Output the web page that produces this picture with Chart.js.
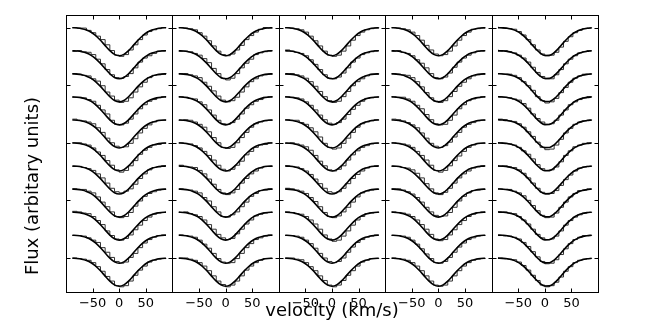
<!DOCTYPE html>
<html>
<head>
<meta charset="utf-8">
<script src="https://cdn.jsdelivr.net/npm/chart.js@4.4.1/dist/chart.umd.min.js"></script>
<style>
  html, body { margin: 0; padding: 0; background: #fff; }
  canvas { display: block; }
</style>
</head>
<body>
<canvas id="profiles" width="664" height="332"></canvas>
<script>
// velocity bins (km/s)
const velocity = [-88, -79.2, -70.4, -61.6, -52.8, -44, -35.2, -26.4, -17.6, -8.8, 0,
                  8.8, 17.6, 26.4, 35.2, 44, 52.8, 61.6, 70.4, 79.2, 88];
const xTicks = [-50, 0, 50];
const yTicks = [1, 2, 3, 4, 5];
// continuum level of each stacked profile, top to bottom
const rowLevels = [5.0, 4.6, 4.2, 3.8, 3.4, 3.0, 2.6, 2.2, 1.8, 1.4, 1.0];

const xLabel = "velocity (km/s)";
const yLabel = "Flux (arbitary units)";

// model line profiles
const modelCentred = [0.996, 0.991, 0.979, 0.956, 0.917, 0.857, 0.778, 0.686, 0.598, 0.533, 0.510,
                      0.533, 0.598, 0.686, 0.778, 0.857, 0.917, 0.956, 0.979, 0.991, 0.996];
const modelShifted = [0.998, 0.994, 0.986, 0.968, 0.937, 0.887, 0.816, 0.728, 0.636, 0.558, 0.515,
                      0.517, 0.564, 0.644, 0.737, 0.823, 0.893, 0.941, 0.971, 0.987, 0.995];
const panelModels = [modelCentred, modelCentred, modelCentred, modelCentred, modelShifted];

// observed profiles, one row per spectrum (top to bottom)
const obsPanel1 = [
  [1.00,0.99,0.99,0.95,0.91,0.85,0.79,0.70,0.60,0.52,0.50,0.53,0.61,0.70,0.79,0.87,0.93,0.96,0.98,1.00,0.99],
  [0.99,1.00,0.98,0.97,0.93,0.85,0.77,0.67,0.58,0.53,0.52,0.55,0.60,0.70,0.80,0.87,0.91,0.95,0.99,1.00,1.00],
  [1.00,0.99,0.97,0.96,0.91,0.87,0.79,0.68,0.61,0.54,0.50,0.52,0.58,0.68,0.77,0.85,0.93,0.97,0.98,0.99,1.01],
  [0.99,0.99,0.98,0.95,0.92,0.85,0.77,0.70,0.59,0.52,0.51,0.54,0.61,0.70,0.79,0.86,0.92,0.95,0.98,1.00,0.99],
  [1.01,0.99,0.98,0.96,0.93,0.86,0.78,0.68,0.60,0.54,0.52,0.53,0.59,0.67,0.77,0.85,0.91,0.96,0.99,0.99,1.00],
  [1.00,1.00,0.98,0.96,0.91,0.84,0.78,0.69,0.61,0.53,0.49,0.52,0.60,0.69,0.80,0.87,0.92,0.96,0.97,0.99,1.00],
  [0.99,0.99,0.97,0.95,0.92,0.86,0.79,0.70,0.61,0.55,0.53,0.56,0.60,0.68,0.78,0.86,0.93,0.97,0.98,1.00,1.00],
  [1.00,0.99,0.99,0.96,0.93,0.86,0.77,0.69,0.60,0.52,0.50,0.52,0.59,0.70,0.79,0.87,0.92,0.95,0.98,0.99,1.00],
  [1.01,1.00,0.98,0.97,0.92,0.85,0.78,0.67,0.59,0.53,0.51,0.54,0.60,0.69,0.77,0.85,0.91,0.96,0.98,0.99,0.99],
  [0.99,0.99,0.98,0.95,0.91,0.87,0.78,0.70,0.61,0.54,0.51,0.53,0.61,0.68,0.78,0.86,0.92,0.96,0.99,1.00,1.00],
  [1.00,0.99,0.98,0.96,0.92,0.85,0.77,0.68,0.60,0.52,0.50,0.52,0.60,0.70,0.79,0.86,0.93,0.96,0.98,0.99,1.00]
];
const obsPanel2 = [
  [1.00,0.99,0.98,0.96,0.91,0.85,0.77,0.68,0.59,0.53,0.51,0.54,0.61,0.69,0.79,0.86,0.92,0.97,1.00,0.99,0.99],
  [0.99,0.99,0.98,0.95,0.92,0.86,0.79,0.69,0.60,0.52,0.49,0.52,0.60,0.70,0.78,0.85,0.93,0.96,0.98,1.00,1.00],
  [1.00,1.00,0.98,0.96,0.93,0.85,0.78,0.70,0.61,0.54,0.51,0.53,0.59,0.68,0.77,0.86,0.91,0.96,0.98,0.99,1.00],
  [1.00,0.99,0.97,0.96,0.91,0.86,0.77,0.68,0.59,0.53,0.52,0.55,0.61,0.70,0.80,0.86,0.92,0.95,0.99,1.00,0.99],
  [0.99,1.00,0.99,0.96,0.92,0.87,0.79,0.69,0.60,0.52,0.50,0.52,0.60,0.69,0.78,0.87,0.93,0.96,0.98,0.99,1.00],
  [1.00,0.99,0.98,0.95,0.91,0.85,0.78,0.70,0.61,0.54,0.51,0.54,0.61,0.68,0.79,0.85,0.92,0.96,0.97,1.00,1.00],
  [1.01,0.99,0.98,0.97,0.92,0.86,0.77,0.68,0.59,0.53,0.50,0.53,0.59,0.70,0.78,0.86,0.91,0.96,0.99,0.99,1.00],
  [1.00,0.99,0.98,0.96,0.93,0.85,0.79,0.69,0.60,0.52,0.51,0.55,0.60,0.69,0.77,0.87,0.92,0.97,0.98,1.00,0.99],
  [0.99,1.00,0.97,0.95,0.92,0.86,0.78,0.70,0.61,0.55,0.52,0.54,0.62,0.70,0.79,0.86,0.93,0.96,0.98,0.99,1.00],
  [1.00,0.99,0.98,0.96,0.91,0.84,0.77,0.68,0.59,0.53,0.51,0.52,0.59,0.68,0.78,0.85,0.92,0.95,0.98,1.00,1.00],
  [1.00,1.00,0.98,0.96,0.92,0.86,0.78,0.69,0.60,0.54,0.50,0.53,0.60,0.69,0.79,0.86,0.92,0.96,0.99,0.99,1.00]
];
const obsPanel3 = [
  [1.00,0.99,0.98,0.96,0.92,0.85,0.77,0.68,0.59,0.52,0.50,0.52,0.59,0.68,0.78,0.86,0.92,0.96,0.98,0.99,1.00],
  [1.01,0.99,0.97,0.95,0.91,0.84,0.76,0.67,0.58,0.52,0.51,0.54,0.61,0.70,0.80,0.87,0.93,0.96,0.98,1.00,1.00],
  [0.99,1.00,0.98,0.96,0.92,0.86,0.78,0.69,0.60,0.53,0.50,0.52,0.60,0.69,0.79,0.86,0.91,0.96,0.99,0.99,1.00],
  [1.00,0.99,0.98,0.96,0.91,0.85,0.77,0.68,0.60,0.54,0.52,0.55,0.61,0.69,0.78,0.85,0.92,0.97,0.98,0.99,1.00],
  [1.00,0.99,0.99,0.95,0.92,0.86,0.79,0.70,0.59,0.52,0.49,0.51,0.59,0.68,0.78,0.87,0.93,0.96,0.98,1.00,0.99],
  [0.99,1.00,0.98,0.96,0.93,0.87,0.78,0.68,0.60,0.53,0.51,0.54,0.60,0.70,0.79,0.86,0.92,0.95,0.98,0.99,1.00],
  [1.00,0.99,0.98,0.95,0.91,0.85,0.77,0.69,0.61,0.55,0.53,0.55,0.61,0.69,0.78,0.85,0.91,0.96,0.99,1.00,1.00],
  [1.01,1.00,0.98,0.96,0.92,0.85,0.78,0.69,0.59,0.52,0.50,0.53,0.60,0.68,0.77,0.86,0.93,0.96,0.98,0.99,1.00],
  [1.00,0.99,0.97,0.96,0.92,0.86,0.79,0.70,0.60,0.53,0.49,0.51,0.58,0.67,0.77,0.86,0.92,0.97,0.98,0.99,1.00],
  [0.99,0.99,0.98,0.96,0.91,0.85,0.77,0.68,0.60,0.54,0.52,0.54,0.60,0.70,0.79,0.87,0.92,0.96,0.98,1.00,1.00],
  [1.00,1.00,0.98,0.97,0.92,0.85,0.78,0.69,0.61,0.53,0.50,0.53,0.61,0.70,0.78,0.86,0.93,0.96,0.99,0.99,1.00]
];
const obsPanel4 = [
  [1.00,0.99,0.98,0.96,0.92,0.86,0.78,0.69,0.61,0.54,0.51,0.53,0.59,0.68,0.78,0.86,0.92,0.97,0.98,0.99,1.00],
  [0.99,1.00,0.97,0.95,0.91,0.84,0.78,0.70,0.60,0.53,0.51,0.54,0.61,0.71,0.80,0.87,0.92,0.96,0.99,1.00,1.00],
  [1.00,0.99,0.98,0.97,0.93,0.86,0.77,0.67,0.58,0.52,0.50,0.53,0.60,0.69,0.78,0.85,0.91,0.96,0.98,0.99,1.00],
  [1.00,0.99,0.99,0.96,0.92,0.85,0.79,0.69,0.60,0.53,0.51,0.52,0.59,0.68,0.79,0.86,0.93,0.96,0.98,1.00,0.99],
  [1.01,1.00,0.98,0.95,0.91,0.86,0.77,0.68,0.59,0.54,0.52,0.55,0.61,0.70,0.78,0.87,0.92,0.95,0.98,0.99,1.00],
  [1.00,0.99,0.98,0.96,0.92,0.85,0.78,0.70,0.61,0.52,0.49,0.52,0.60,0.69,0.77,0.85,0.92,0.96,0.99,0.99,1.00],
  [0.99,0.99,0.97,0.96,0.93,0.87,0.79,0.69,0.60,0.53,0.50,0.54,0.61,0.70,0.79,0.86,0.91,0.96,0.98,1.00,1.00],
  [1.00,1.00,0.98,0.95,0.91,0.85,0.77,0.68,0.60,0.54,0.52,0.53,0.59,0.68,0.79,0.87,0.93,0.97,0.98,0.99,1.00],
  [1.00,0.99,0.98,0.96,0.92,0.86,0.78,0.70,0.61,0.53,0.50,0.52,0.60,0.69,0.78,0.85,0.92,0.96,0.99,1.00,0.99],
  [0.99,0.99,0.98,0.96,0.91,0.84,0.76,0.67,0.59,0.52,0.51,0.54,0.61,0.70,0.79,0.86,0.92,0.95,0.98,0.99,1.00],
  [1.00,0.99,0.98,0.96,0.92,0.86,0.78,0.69,0.60,0.53,0.51,0.53,0.60,0.69,0.78,0.86,0.92,0.96,0.98,0.99,1.00]
];
const obsPanel5 = [
  [1.00,0.99,0.98,0.97,0.93,0.87,0.79,0.70,0.61,0.54,0.51,0.52,0.57,0.66,0.76,0.84,0.91,0.95,0.98,0.99,1.00],
  [0.99,1.00,0.98,0.96,0.92,0.87,0.80,0.71,0.62,0.55,0.51,0.51,0.58,0.67,0.77,0.85,0.91,0.96,0.98,1.00,1.00],
  [1.00,0.99,0.99,0.97,0.93,0.86,0.79,0.71,0.60,0.53,0.49,0.51,0.57,0.67,0.76,0.85,0.92,0.96,0.99,0.99,1.00],
  [1.00,0.99,0.98,0.96,0.94,0.88,0.80,0.70,0.62,0.56,0.52,0.53,0.59,0.68,0.77,0.86,0.91,0.95,0.98,1.00,0.99],
  [1.01,1.00,0.98,0.97,0.93,0.87,0.79,0.71,0.61,0.52,0.48,0.49,0.56,0.66,0.77,0.85,0.92,0.96,0.98,0.99,1.00],
  [1.00,0.99,0.98,0.96,0.92,0.86,0.80,0.72,0.62,0.55,0.52,0.53,0.58,0.67,0.78,0.86,0.93,0.96,0.99,1.00,1.00],
  [0.99,1.00,0.98,0.97,0.93,0.87,0.79,0.70,0.61,0.54,0.51,0.52,0.57,0.66,0.76,0.84,0.91,0.96,0.98,0.99,1.00],
  [1.00,0.99,0.99,0.96,0.93,0.88,0.80,0.71,0.62,0.54,0.50,0.51,0.58,0.68,0.77,0.86,0.92,0.97,0.98,1.00,1.00],
  [1.00,1.00,0.98,0.97,0.92,0.86,0.79,0.70,0.61,0.55,0.52,0.53,0.58,0.67,0.77,0.85,0.91,0.95,0.98,0.99,1.00],
  [0.99,0.99,0.98,0.96,0.93,0.87,0.80,0.71,0.62,0.54,0.50,0.51,0.57,0.66,0.76,0.85,0.92,0.96,0.99,0.99,1.00],
  [1.00,0.99,0.98,0.97,0.93,0.87,0.79,0.70,0.61,0.53,0.50,0.52,0.58,0.67,0.77,0.85,0.92,0.96,0.98,0.99,1.00]
];
const panels = [obsPanel1, obsPanel2, obsPanel3, obsPanel4, obsPanel5];

const FONT = "DejaVu Sans";
Chart.defaults.font.family = FONT;
Chart.defaults.color = "#000";

// build datasets: observed (steps) + model (smooth) for every spectrum
const datasets = [];
panels.forEach((rows, p) => {
    const xAxisID = "x" + p;
    rows.forEach((flux, r) => {
        const shift = rowLevels[r] - 1;
        datasets.push({
            xAxisID: xAxisID,
            yAxisID: "y",
            order: 1,
            data: velocity.map((v, k) => ({ x: v, y: flux[k] + shift })),
            stepped: "before",
            borderColor: "#333",
            borderWidth: 1,
            pointRadius: 0,
            fill: false
        });
        datasets.push({
            xAxisID: xAxisID,
            yAxisID: "y",
            order: 0,
            data: velocity.map((v, k) => ({ x: v, y: panelModels[p][k] + shift })),
            cubicInterpolationMode: "monotone",
            borderColor: "#000",
            borderWidth: 1.6,
            pointRadius: 0,
            fill: false
        });
    });
});

const scales = {
    y: {
        position: "left",
        min: 0.41,
        max: 5.217,
        ticks: { display: false },
        grid: { display: false, drawTicks: false },
        border: { display: false },
        afterFit: function (s) { s.width = 66; }
    }
};
panels.forEach((rows, p) => {
    scales["x" + p] = {
        type: "linear",
        position: "bottom",
        stack: "panels",
        stackWeight: 1,
        min: -100,
        max: 100,
        afterBuildTicks: function (s) { s.ticks = xTicks.map(v => ({ value: v })); },
        ticks: {
            autoSkip: false,
            maxRotation: 0,
            padding: 4,
            color: "#000",
            font: { size: 13 },
            callback: v => (v < 0 ? "\u2212" + Math.abs(v) : String(v))
        },
        grid: { display: false, drawTicks: false },
        border: { display: false },
        afterFit: function (s) { s.height = 40; }
    };
});

// panel frames, inward tick marks and the two axis labels
const framePlugin = {
    id: "panelFrames",
    afterDraw(chart) {
        const { ctx, chartArea } = chart;
        const yScale = chart.scales.y;
        const top = Math.round(chartArea.top) + 0.5;
        const bottom = Math.round(chartArea.bottom) + 0.5;
        ctx.save();
        ctx.strokeStyle = "#000";
        ctx.lineWidth = 1;
        panels.forEach((rows, p) => {
            const s = chart.scales["x" + p];
            const left = Math.round(s.left) + 0.5;
            const right = Math.round(s.right) + 0.5;
            ctx.strokeRect(left, top, right - left, bottom - top);
            ctx.beginPath();
            xTicks.forEach(v => {
                const x = Math.round(s.getPixelForValue(v)) + 0.5;
                ctx.moveTo(x, bottom); ctx.lineTo(x, bottom - 4);
                ctx.moveTo(x, top); ctx.lineTo(x, top + 4);
            });
            yTicks.forEach(v => {
                const y = Math.round(yScale.getPixelForValue(v)) + 0.5;
                ctx.moveTo(left, y); ctx.lineTo(left + 4, y);
                ctx.moveTo(right, y); ctx.lineTo(right - 4, y);
            });
            ctx.stroke();
        });
        ctx.font = "18px '" + FONT + "'";
        ctx.fillStyle = "#000";
        ctx.textAlign = "center";
        ctx.textBaseline = "alphabetic";
        ctx.fillText(xLabel, (chartArea.left + chartArea.right) / 2, 316);
        ctx.translate(38, 186);
        ctx.rotate(-Math.PI / 2);
        ctx.fillText(yLabel, 0, 0);
        ctx.restore();
    }
};

const ctx = document.getElementById("profiles").getContext("2d");
const profileChart = new Chart(ctx, {
    type: "line",
    data: { datasets: datasets },
    options: {
        responsive: false,
        animation: false,
        events: [],
        layout: { padding: { left: 0, right: 66, top: 15, bottom: 0 } },
        scales: scales,
        plugins: {
            legend: { display: false },
            tooltip: { enabled: false },
            title: { display: false }
        }
    },
    plugins: [framePlugin]
});
</script>
</body>
</html>
